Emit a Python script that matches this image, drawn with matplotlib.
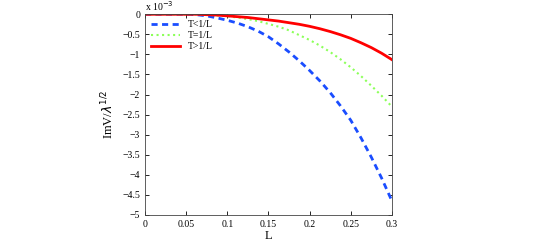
import matplotlib
matplotlib.use("Agg")
import matplotlib.pyplot as plt
from matplotlib.ticker import FuncFormatter
import numpy as np

plt.rcParams['font.family'] = ['Liberation Serif', 'DejaVu Serif']

L = [0, 0.0125, 0.025, 0.0375, 0.05, 0.0625, 0.075, 0.0875, 0.1, 0.1125, 0.125,
     0.1375, 0.15, 0.1625, 0.175, 0.1875, 0.2, 0.2125, 0.225, 0.2375, 0.25,
     0.2625, 0.275, 0.2875, 0.3]
# values in units of 1e-3
t_less = [0, 0, 0, 0, 0, -0.01, -0.04, -0.09, -0.15, -0.22, -0.31,
          -0.42, -0.56, -0.74, -0.94, -1.16, -1.40, -1.66, -1.95, -2.28, -2.64,
          -3.08, -3.56, -4.08, -4.65]
t_equal = [0, 0, 0, 0, 0, 0, -0.01, -0.03, -0.05, -0.08, -0.12,
           -0.17, -0.24, -0.31, -0.40, -0.52, -0.64, -0.78, -0.94, -1.12, -1.32,
           -1.54, -1.78, -2.03, -2.30]
t_greater = [0, 0, 0, 0, 0, 0, -0.01, -0.02, -0.04, -0.06, -0.08,
             -0.11, -0.14, -0.17, -0.21, -0.25, -0.30, -0.36, -0.43, -0.51, -0.60,
             -0.71, -0.83, -0.97, -1.13]

fig = plt.figure(figsize=(5.45, 2.42), dpi=100)
ax = fig.add_axes([0.266, 0.112, 0.453, 0.829])

ax.plot(L, t_less, '--', color=(0.1, 0.3, 1.0), lw=2, dashes=(2.2, 1.6), label="T<1/L")
ax.plot(L, t_equal, ':', color=(0.55, 1.0, 0.35), lw=1.5, label="T=1/L")
ax.plot(L, t_greater, '-', color=(1.0, 0.0, 0.0), lw=2, label="T>1/L")

ax.set_xlim(0, 0.3)
ax.set_ylim(-5, 0)
ax.set_xticks(np.arange(0, 0.301, 0.05))
ax.set_yticks(np.arange(-5, 0.01, 0.5))
ax.xaxis.set_major_formatter(FuncFormatter(lambda v, p: "%g" % round(v, 3)))
ax.yaxis.set_major_formatter(FuncFormatter(lambda v, p: ("%g" % round(v, 2)).replace("-", "\u2212")))
ax.tick_params(direction='in', length=3, labelsize=7, top=True, right=True, width=0.6)
for s in ax.spines.values():
    s.set_linewidth(0.6)
    s.set_color('#444444')

ax.set_xlabel("L", fontsize=9, labelpad=1)
ax.set_ylabel(r"ImV/$\lambda^{1/2}$", fontsize=9, labelpad=4)
ax.text(0.0, 1.005, r"x 10$^{-3}$", transform=ax.transAxes, fontsize=7, va='bottom', ha='left')

ax.legend(loc='upper left', frameon=False, fontsize=7, handlelength=3, borderaxespad=0.2, labelspacing=0.2)

fig.savefig("out.png", dpi=100)
